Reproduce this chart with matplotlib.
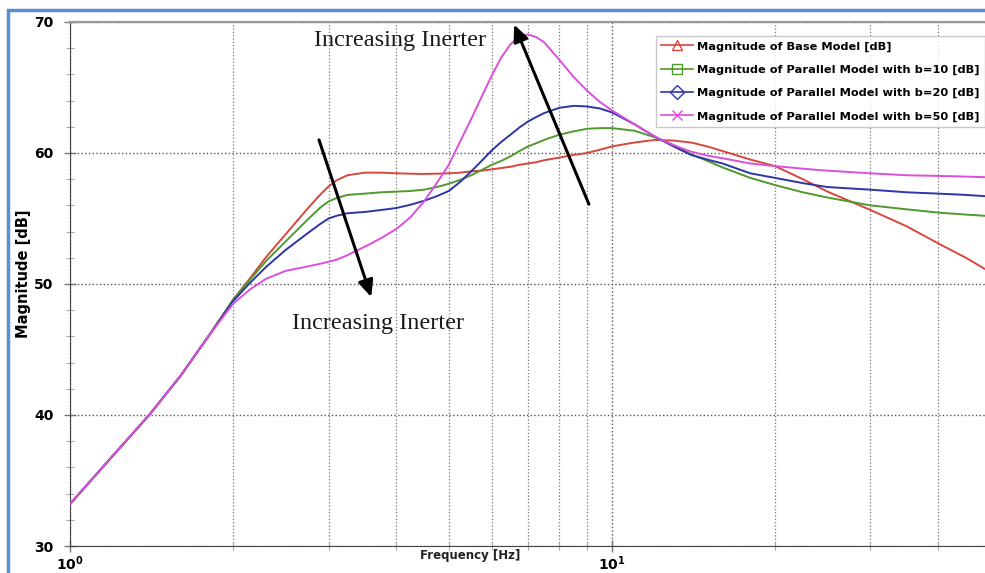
import numpy as np
import matplotlib.pyplot as plt
from matplotlib.lines import Line2D
from matplotlib.patches import Rectangle
from matplotlib.ticker import FixedLocator, FuncFormatter, NullFormatter, MultipleLocator

# частоты [Hz] и амплитуды [dB]
freq = [1, 1.2, 1.4, 1.6, 1.8, 2, 2.15, 2.3, 2.5, 2.75, 2.9, 3, 3.1, 3.25, 3.5, 3.75, 4,
        4.25, 4.5, 4.75, 5, 5.25, 5.5, 5.75, 6, 6.25, 6.5, 6.75, 7, 7.25, 7.5, 8, 8.5, 9,
        9.5, 10, 11, 12, 13, 14, 15, 16, 18, 20, 22.5, 25, 30, 35, 40, 45, 49]

base = [33.2, 36.9, 40.0, 43.0, 46.0, 48.8, 50.45, 52.05, 53.8, 55.8, 56.85, 57.45, 57.9,
        58.3, 58.5, 58.5, 58.45, 58.42, 58.4, 58.42, 58.45, 58.5, 58.6, 58.65, 58.75,
        58.85, 58.95, 59.1, 59.2, 59.3, 59.45, 59.65, 59.85, 60.0, 60.25, 60.5, 60.8,
        61.0, 60.95, 60.8, 60.5, 60.15, 59.5, 59.0, 58.0, 57.05, 55.65, 54.4, 53.1, 52.0, 51.1]

b10 = [33.2, 36.9, 40.0, 43.0, 46.0, 48.8, 50.35, 51.75, 53.25, 54.95, 55.85, 56.3, 56.55,
       56.8, 56.9, 57.0, 57.05, 57.1, 57.2, 57.4, 57.65, 57.95, 58.3, 58.7, 59.1, 59.4,
       59.75, 60.15, 60.5, 60.75, 61.0, 61.4, 61.65, 61.85, 61.9, 61.9, 61.7, 61.2, 60.6,
       59.9, 59.4, 58.9, 58.1, 57.55, 57.0, 56.6, 56.0, 55.7, 55.45, 55.3, 55.2]

b20 = [33.2, 36.9, 40.0, 43.0, 46.0, 48.7, 50.1, 51.3, 52.6, 53.9, 54.6, 55.0, 55.2,
       55.4, 55.5, 55.65, 55.8, 56.05, 56.35, 56.7, 57.1, 57.8, 58.6, 59.4, 60.2, 60.85,
       61.4, 61.95, 62.4, 62.75, 63.05, 63.45, 63.6, 63.55, 63.4, 63.1, 62.2, 61.25, 60.5,
       59.85, 59.5, 59.2, 58.45, 58.1, 57.7, 57.4, 57.2, 57.0, 56.9, 56.8, 56.7]

b50 = [33.2, 36.9, 40.0, 43.0, 46.0, 48.5, 49.6, 50.4, 51.0, 51.35, 51.55, 51.7, 51.85,
       52.2, 52.85, 53.5, 54.2, 55.1, 56.3, 57.7, 59.1, 60.9, 62.6, 64.3, 65.9, 67.3,
       68.3, 68.9, 69.05, 68.85, 68.45, 67.1, 65.8, 64.75, 63.9, 63.25, 62.2, 61.25, 60.6,
       60.1, 59.8, 59.6, 59.2, 59.0, 58.8, 58.65, 58.45, 58.3, 58.25, 58.2, 58.15]

labels = ['Magnitude of Base Model [dB]',
          'Magnitude of Parallel Model with b=10 [dB]',
          'Magnitude of Parallel Model with b=20 [dB]',
          'Magnitude of Parallel Model with b=50 [dB]']
colors = ['#d8473c', '#4f9a2c', '#2c36a8', '#dc4fdc']
markers = ['^', 's', 'D', 'x']

fig = plt.figure(figsize=(9.85, 5.73), dpi=100)
ax = fig.add_axes([70 / 985, 1 - 546 / 573, 1 - 70 / 985, 524 / 573])

for y, c in zip([base, b10, b20, b50], colors):
    ax.plot(freq, y, color=c, lw=1.4, zorder=3)

ax.set_xscale('log')
ax.set_xlim(1, 48.8)
ax.set_ylim(30, 70)

# сетка
ax.xaxis.set_major_locator(FixedLocator([1, 10]))
ax.xaxis.set_minor_locator(FixedLocator([2, 3, 4, 5, 6, 7, 8, 9, 20, 30, 40]))
ax.xaxis.set_major_formatter(FuncFormatter(lambda v, p: r'$\mathbf{10^{%d}}$' % round(np.log10(v))))
ax.xaxis.set_minor_formatter(NullFormatter())
ax.yaxis.set_major_locator(MultipleLocator(10))
ax.yaxis.set_minor_locator(MultipleLocator(2))
ax.grid(True, which='major', axis='both', ls=':', color='#555555', lw=1.0)
ax.grid(True, which='minor', axis='x', ls=':', color='#777777', lw=0.9)
ax.tick_params(axis='both', which='major', direction='inout', length=8, width=1,
               color='#777777', labelsize=10)
ax.tick_params(axis='both', which='minor', direction='inout', length=6, width=0.8,
               color='#aaaaaa')
ax.tick_params(axis='y', pad=8)
ax.tick_params(axis='x', pad=2)
for lab in ax.get_yticklabels():
    lab.set_fontweight('bold')

ax.spines['right'].set_visible(False)
ax.spines['top'].set_color('#999999')
ax.spines['top'].set_linewidth(1.6)
ax.spines['left'].set_color('#444444')
ax.spines['bottom'].set_color('#444444')

ax.set_ylabel('Magnitude [dB]', fontsize=10.5, fontweight='bold')
ax.yaxis.set_label_coords(-0.043, 0.52)
ax.set_xlabel('Frequency [Hz]', fontsize=8.5, fontweight='bold', color='#222222')
ax.xaxis.set_label_coords(0.437, -0.006)

# стрелки и подписи
ax.annotate('', xy=(3.61, 48.8), xytext=(2.87, 61.2),
            arrowprops=dict(arrowstyle='-|>,head_length=1.0,head_width=0.45', lw=2.2, color='black'),
            zorder=5)
ax.annotate('', xy=(6.57, 70.0), xytext=(9.11, 55.9),
            arrowprops=dict(arrowstyle='-|>,head_length=1.0,head_width=0.45', lw=2.2, color='black'),
            zorder=5, annotation_clip=False)
ax.text(4.06, 68.6, 'Increasing Inerter', family='Liberation Serif', fontsize=17.5,
        ha='center', va='center', color='#1a1a1a')
ax.text(3.70, 47.0, 'Increasing Inerter', family='Liberation Serif', fontsize=17.5,
        ha='center', va='center', color='#1a1a1a')

handles = [Line2D([], [], color=c, marker=m, mfc='none', ms=7, lw=1.2)
           for c, m in zip(colors, markers)]
leg = ax.legend(handles, labels, loc='upper right', bbox_to_anchor=(1.006, 0.985),
                prop={'weight': 'bold', 'size': 8.2}, frameon=True, fancybox=False,
                handlelength=2.8, labelspacing=1.15, borderpad=0.5, handletextpad=0.3)
leg.get_frame().set_edgecolor('#bbbbbb')
leg.get_frame().set_linewidth(1.0)

# голубая рамка вокруг картинки
fig.patches.append(Rectangle((8 / 985, -0.1), 1.2, 1 - 10 / 573 + 0.1, transform=fig.transFigure,
                             fill=False, edgecolor='#5b8fd4', lw=2.5))

fig.savefig('out.png', dpi=100)
